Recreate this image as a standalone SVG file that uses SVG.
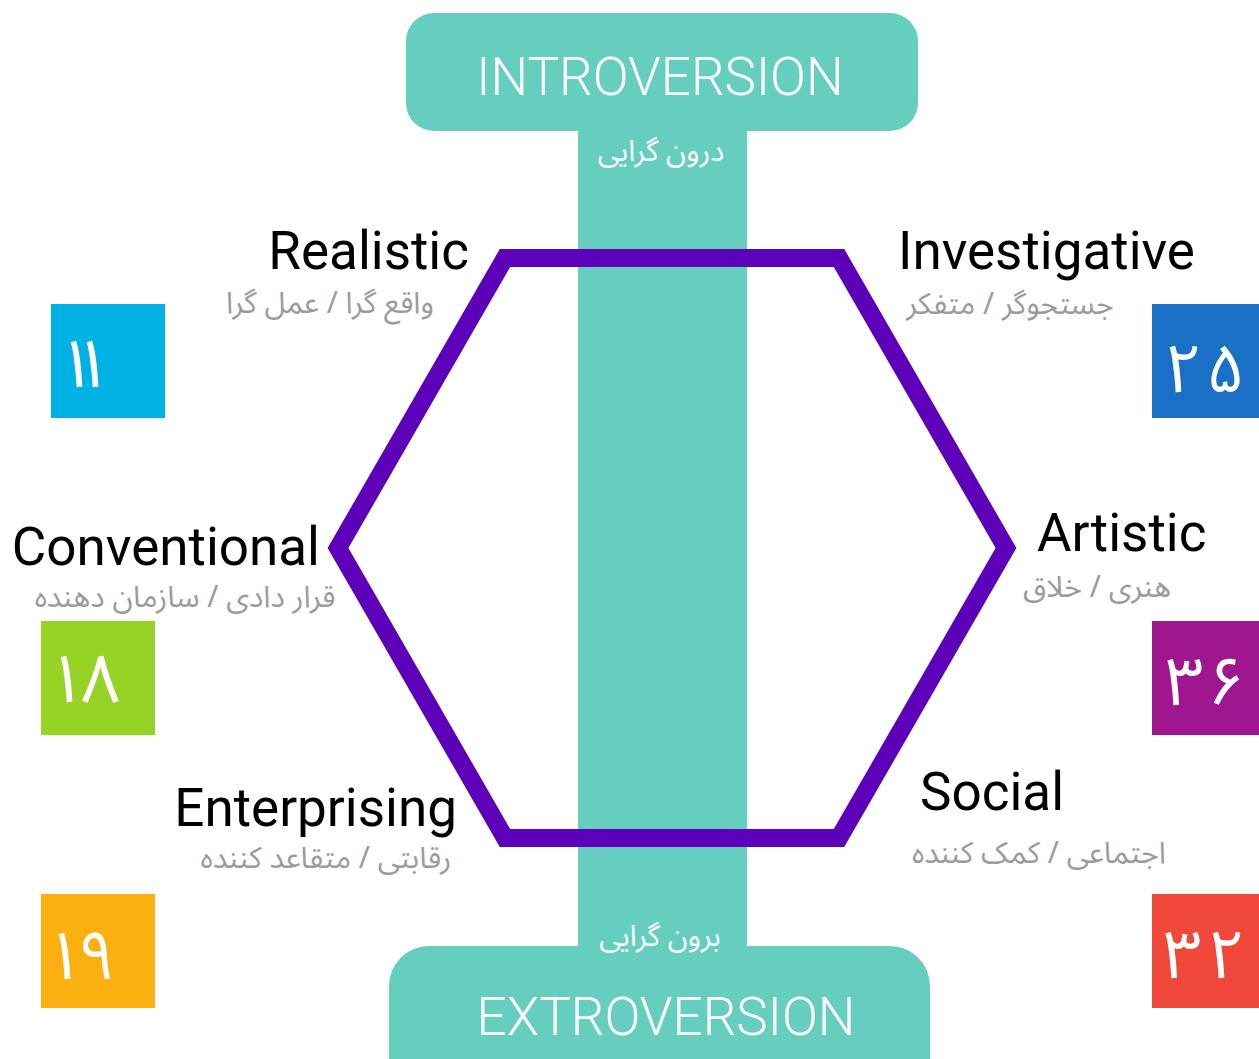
<svg xmlns="http://www.w3.org/2000/svg" width="1259" height="1059" viewBox="0 0 1259 1059">
<style>
.teal{fill:#66CEBE}
.axis{font-family:Roboto,"Liberation Sans",sans-serif;font-weight:300;font-size:53px;fill:#FFFFFF;text-anchor:middle}
.axisfa{font-family:"Noto Sans Arabic",Vazirmatn,"DejaVu Sans",sans-serif;font-size:29.5px;fill:#FFFFFF;text-anchor:middle}
.en{font-family:Roboto,"Liberation Sans",sans-serif;font-size:53px;fill:#000000}
.fa{font-family:"Noto Sans Arabic",Vazirmatn,"DejaVu Sans",sans-serif;font-size:30px;fill:#9B9B9F;text-anchor:middle}
.num{font-family:"Noto Sans Arabic",Vazirmatn,"DejaVu Sans",sans-serif;font-size:68px;fill:#FFFFFF}
</style>
<g id="axis">
<rect class="teal" x="578" y="120" width="169" height="840"/>
<g id="introversion">
<rect class="teal" x="406" y="13" width="512" height="118" rx="28" ry="28"/>
<text class="axis" x="660" y="95">INTROVERSION</text>
<text class="axisfa" x="661" y="161">درون گرایی</text>
</g>
<g id="extroversion">
<rect class="teal" x="389" y="946" width="541" height="160" rx="40" ry="40"/>
<text class="axisfa" x="660" y="946">برون گرایی</text>
<text class="axis" x="666" y="1035">EXTROVERSION</text>
</g>
</g>
<g id="connectors">
<polygon points="505,258 839,258 1006,548 839,838 505,838 338,548" fill="none" stroke="#5D00B9" stroke-width="18" stroke-linejoin="miter"/>
</g>
<g id="realistic">
<text class="en" x="469" y="269" text-anchor="end">Realistic</text>
<text class="fa" x="330" y="313">واقع گرا / عمل گرا</text>
<rect x="51" y="304" width="114" height="114" fill="#00B2E3"/>
<text class="num" x="57" y="387" dx="0 -23">۱۱</text>
</g>
<g id="investigative">
<text class="en" x="898" y="269">Investigative</text>
<text class="fa" x="1010" y="314">جستجوگر / متفکر</text>
<rect x="1152" y="304" width="114" height="114" fill="#1A70C5"/>
<text class="num" x="1164" y="392" dx="0 3">۲۵</text>
</g>
<g id="conventional">
<text class="en" x="320" y="565" text-anchor="end">Conventional</text>
<text class="fa" x="185" y="607">قرار دادی / سازمان دهنده</text>
<rect x="41" y="621" width="114" height="114" fill="#97D325"/>
<text class="num" x="47" y="702" dx="0 -5">۱۸</text>
</g>
<g id="artistic">
<text class="en" x="1037" y="551">Artistic</text>
<text class="fa" x="1097" y="597">هنری / خلاق</text>
<rect x="1152" y="621" width="114" height="114" fill="#A0168E"/>
<text class="num" x="1165" y="705" dx="0 3">۳۶</text>
</g>
<g id="enterprising">
<text class="en" x="457" y="826" text-anchor="end">Enterprising</text>
<text class="fa" x="326" y="868">رقابتی / متقاعد کننده</text>
<rect x="41" y="894" width="114" height="114" fill="#FBB012"/>
<text class="num" x="45" y="979" dx="0 -7">۱۹</text>
</g>
<g id="social">
<text class="en" x="920" y="810">Social</text>
<text class="fa" x="1039" y="863">اجتماعی / کمک کننده</text>
<rect x="1152" y="894" width="114" height="114" fill="#F0483B"/>
<text class="num" x="1163" y="978" dx="0 5">۳۲</text>
</g>
</svg>
